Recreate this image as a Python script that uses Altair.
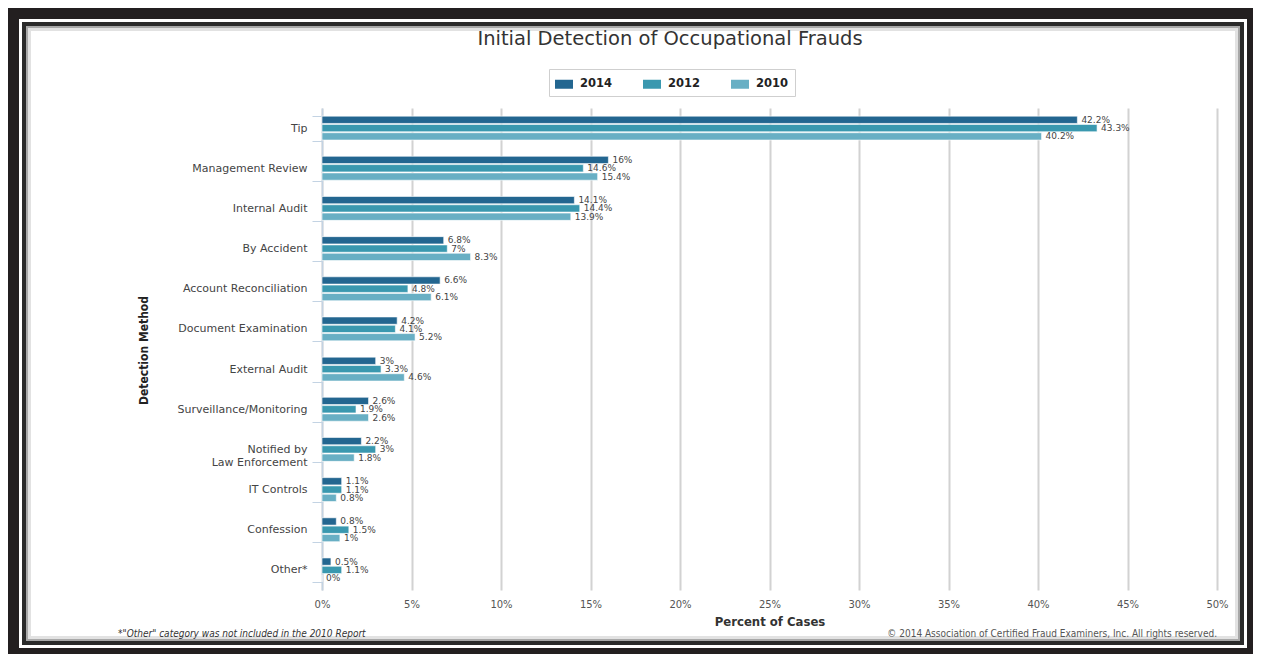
import altair as alt
import pandas as pd

categories = ["Tip", "Management Review", "Internal Audit", "By Accident",
              "Account Reconciliation", "Document Examination", "External Audit",
              "Surveillance/Monitoring", "Notified by Law Enforcement", "IT Controls",
              "Confession", "Other*"]
years = ["2014", "2012", "2010"]
v2014 = [42.2, 16, 14.1, 6.8, 6.6, 4.2, 3, 2.6, 2.2, 1.1, 0.8, 0.5]
v2012 = [43.3, 14.6, 14.4, 7, 4.8, 4.1, 3.3, 1.9, 3, 1.1, 1.5, 1.1]
v2010 = [40.2, 15.4, 13.9, 8.3, 6.1, 5.2, 4.6, 2.6, 1.8, 0.8, 1, 0]
colors = ["#236690", "#3a98af", "#68afc4"]
x_ticks = [0, 5, 10, 15, 20, 25, 30, 35, 40, 45, 50]

title_text = "Initial Detection of Occupational Frauds"
footnote = '*"Other" category was not included in the 2010 Report'
copyright_text = "\u00a9 2014 Association of Certified Fraud Examiners, Inc. All rights reserved."

rows = []
for yr, vals in zip(years, [v2014, v2012, v2010]):
    for c, v in zip(categories, vals):
        rows.append({"method": c, "year": yr, "value": v})
df = pd.DataFrame(rows)

W, H = 895, 482
OX, OY = 322, 108  # page position of the plot origin
FONT = "DejaVu Sans"
NARROW = "Liberation Sans Narrow, DejaVu Sans Condensed, sans-serif"

y_enc = alt.Y("method:N", sort=categories,
              scale=alt.Scale(paddingInner=0.38, paddingOuter=0.19),
              axis=alt.Axis(title="Detection Method", tickBand="extent", tickSize=10,
                            tickColor="#c3d3e3", domainColor="#c3d3e3", domainWidth=1.5,
                            labelFont=FONT, labelFontSize=11, labelColor="#444",
                            labelPadding=5,
                            labelExpr="datum.label == 'Notified by Law Enforcement' ? ['Notified by', 'Law Enforcement'] : datum.label",
                            titleFont=NARROW, titleFontSize=12, titleFontWeight="bold",
                            titleColor="#222", titleAngle=270, titleX=-179, titleY=242,
                            titleAlign="center", titleBaseline="middle", grid=False))
x_enc = alt.X("value:Q", scale=alt.Scale(domain=[0, 50], nice=False),
              axis=alt.Axis(title="Percent of Cases", values=x_ticks, labelExpr="datum.value + '%'",
                            grid=True, gridColor="#d2d2d2", gridWidth=2, domain=False, ticks=False,
                            labelFlush=False,
                            labelFont=FONT, labelFontSize=10, labelColor="#555", labelPadding=9,
                            titleFont=NARROW, titleFontSize=13, titleFontWeight="bold",
                            titleColor="#333", titlePadding=6))
yoff = alt.YOffset("year:N", sort=years,
                   scale=alt.Scale(paddingInner=0.12, paddingOuter=0.06))
color = alt.Color("year:N", sort=years,
                  scale=alt.Scale(domain=years, range=colors),
                  legend=alt.Legend(title=None, orient="none", direction="horizontal",
                                    legendX=227, legendY=-39,
                                    symbolType="M-1,-0.5H1V0.5H-1Z", symbolSize=324,
                                    symbolStrokeWidth=0, labelFont=FONT, labelFontSize=11.5,
                                    labelFontWeight="bold", labelColor="#222",
                                    labelOffset=7, columnPadding=30, padding=6,
                                    strokeColor="#cfcfcf", fillColor="white"))

base = alt.Chart(df)
bars = base.mark_bar(stroke="white", strokeWidth=0.6).encode(
    y=y_enc, x=x_enc, yOffset=yoff, color=color)
labels = base.transform_calculate(lab="datum.value + '%'").mark_text(
    align="left", baseline="middle", dx=4, font=FONT, fontSize=9, color="#444"
).encode(y=alt.Y("method:N", sort=categories), x="value:Q", yOffset=yoff, text="lab:N")

one = alt.Chart(pd.DataFrame({"k": [0]}))

def box(l, t, r, b, col):
    # filled rectangle given in page pixels
    return one.mark_rect(color=col).encode(
        x=alt.value(l - OX), x2=alt.value(r - OX),
        y=alt.value(t - OY), y2=alt.value(b - OY))

def ring(l, t, r, b, w, col):
    c = w / 2
    return one.mark_rect(fillOpacity=0, stroke=col, strokeWidth=w).encode(
        x=alt.value(l + c - OX), x2=alt.value(r - c - OX),
        y=alt.value(t + c - OY), y2=alt.value(b - c - OY))

BLK = "#231f20"
frames = alt.layer(
    box(8, 8, 1253, 19, BLK),      # top
    box(8, 8, 19, 654, BLK),       # left
    box(1247, 8, 1253, 654, BLK),  # right
    box(8, 648, 1253, 654, BLK),   # bottom
    ring(22, 22, 1244, 645, 4, "#2a2a2a"),
    ring(26, 26, 1240, 641, 2, "#a8a8a8"),
    ring(28, 28, 1238, 639, 3, "#e2e2e2"),
)

title = one.mark_text(text=title_text, font=FONT, fontSize=19.5, color="#333",
                      align="center", baseline="middle").encode(
    x=alt.value(670 - OX), y=alt.value(39 - OY))
foot1 = one.mark_text(text=footnote, font=NARROW, fontSize=10, fontStyle="italic",
                      color="#333", align="left", baseline="middle").encode(
    x=alt.value(118 - OX), y=alt.value(634 - OY))
foot2 = one.mark_text(text=copyright_text, font=NARROW, fontSize=10,
                      color="#555", align="right", baseline="middle").encode(
    x=alt.value(1217 - OX), y=alt.value(634 - OY))

chart = alt.layer(bars, labels, frames, title, foot1, foot2).properties(
    width=W, height=H,
    autosize=alt.AutoSizeParams(type="none"),
    padding={"left": OX - 8, "top": OY - 8, "right": 1245 - (OX - 8) - W,
             "bottom": 646 - (OY - 8) - H},
    background="white"
).configure_view(stroke=None)

chart.save("out.html", embed_options={"renderer": "svg", "actions": False})
